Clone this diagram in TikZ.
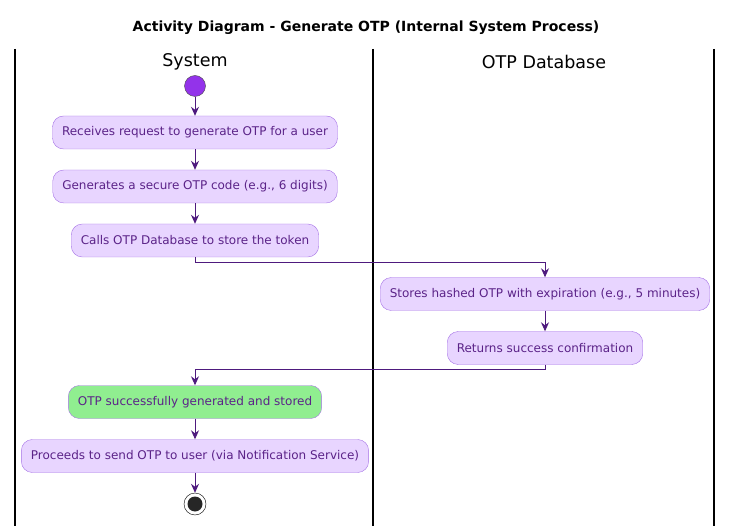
\documentclass[tikz,border=0pt]{standalone}
\usepackage{fontspec}
\setmainfont{DejaVu Sans}
\usepackage{tikz}
\usetikzlibrary{arrows.meta,calc}

\definecolor{actfill}{HTML}{E8D5FF}
\definecolor{actline}{HTML}{A572E6}
\definecolor{acttext}{HTML}{5B2388}
\definecolor{flowcol}{HTML}{4E1A7E}
\definecolor{startcol}{HTML}{9333EA}
\definecolor{donecol}{HTML}{90EE90}

\tikzset{
  act/.style={draw=actline, fill=actfill, text=acttext, rounded corners=11pt,
    minimum height=33pt, inner xsep=9.5pt, font=\fontsize{12}{14}\selectfont},
  flow/.style={draw=flowcol, line width=0.9pt, -{Stealth[length=9pt,width=8pt,inset=3pt]}},
  lane/.style={draw=black, line width=1.2pt}
}

\begin{document}
\begin{tikzpicture}[x=1pt,y=-1pt]
  \useasboundingbox (0,0) rectangle (733,526);

  % title and swimlanes
  \node[font=\fontsize{14}{16}\selectfont\bfseries] (title) at (366,28) {Activity Diagram - Generate OTP (Internal System Process)};
  \foreach \x in {15,373,714}
    \draw[lane] (\x,49) -- (\x,526);
  \node[font=\fontsize{17.5}{20}\selectfont] (sys) at (195,62) {System};
  \node[font=\fontsize{17.5}{20}\selectfont] (db) at (544,62) {OTP Database};

  \begin{scope}
    \def\sx{195}
    \def\dx{545}

    \node[circle, draw=black!70, fill=startcol, minimum size=21pt, inner sep=0pt] (start) at (\sx,86) {};
    \node[act] (recv) at (\sx,132.5) {Receives request to generate OTP for a user};
    \node[act] (gen) at (\sx,186.5) {Generates a secure OTP code (e.g., 6 digits)};
    \node[act] (call) at (\sx,240.5) {Calls OTP Database to store the token};
    \node[act] (store) at (\dx,294) {Stores hashed OTP with expiration (e.g., 5 minutes)};
    \node[act] (ret) at (\dx,348) {Returns success confirmation};
    \node[act, fill=donecol] (ok) at (\sx,402) {OTP successfully generated and stored};
    \node[act] (send) at (\sx,456) {Proceeds to send OTP to user (via Notification Service)};
    \node[circle, draw=black, fill=white, minimum size=22pt, inner sep=0pt] (stop) at (\sx,504) {};
    \fill[black!85] (stop) circle (7.5pt);

    \draw[flow] (start) -- (recv);
    \draw[flow] (recv) -- (gen);
    \draw[flow] (gen) -- (call);
    \draw[flow] (call.south) -- ++(0,5) -| (store.north);
    \draw[flow] (store) -- (ret);
    \draw[flow] (ret.south) -- ++(0,5) -| (ok.north);
    \draw[flow] (ok) -- (send);
    \draw[flow] (send) -- (stop);
  \end{scope}
\end{tikzpicture}
\end{document}
